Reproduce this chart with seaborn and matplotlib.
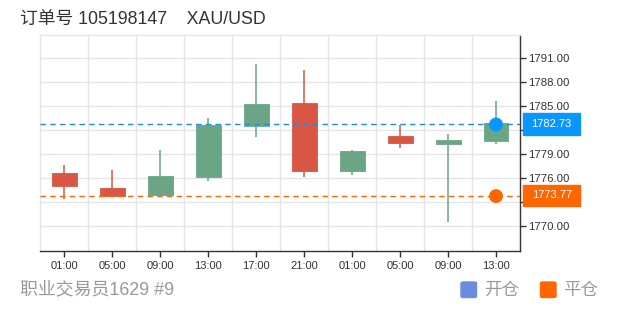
import matplotlib
matplotlib.use("Agg")
import matplotlib.pyplot as plt
import matplotlib.transforms as mtransforms
from matplotlib.patches import Rectangle, FancyBboxPatch
import numpy as np
import pandas as pd
import seaborn as sns

# ---- data ----
times = ["01:00", "05:00", "09:00", "13:00", "17:00", "21:00", "01:00", "05:00", "09:00", "13:00"]
opens = [1776.6, 1774.8, 1773.9, 1776.1, 1782.5, 1785.4, 1776.9, 1781.3, 1780.3, 1780.7]
closes = [1775.0, 1773.8, 1776.25, 1782.6, 1785.3, 1776.9, 1779.4, 1780.4, 1780.75, 1782.9]
highs = [1777.7, 1777.0, 1779.5, 1783.5, 1790.3, 1789.5, 1779.55, 1782.7, 1781.5, 1785.7]
lows = [1773.45, 1773.6, 1773.6, 1775.6, 1781.2, 1776.2, 1776.45, 1779.8, 1770.5, 1780.3]
open_price = 1782.73
close_price = 1773.77
trade_idx = 9
yticks = [1770, 1773, 1776, 1779, 1782, 1785, 1788, 1791]
title = "订单号 105198147    XAU/USD"
footer = "职业交易员1629 #9"
legend_labels = ["开仓", "平仓"]

RED = "#d95644"
GREEN = "#6aa685"
BLUE_LINE = "#1e8ce6"
BLUE = "#0a96ff"
ORANGE = "#ff6600"
LEG_BLUE = "#6a8be0"

sns.set_theme(style="white")
plt.rcParams["font.family"] = ["Liberation Sans", "Noto Sans CJK SC", "DejaVu Sans"]

W, H = 620, 310
fig = plt.figure(figsize=(W / 100, H / 100), dpi=100)
L, R, T, B = 40.3, 520.0, 35.3, 251.0
ax = fig.add_axes([L / W, (H - B) / H, (R - L) / W, (B - T) / H])

df = pd.DataFrame({"t": range(len(times)), "label": times, "open": opens, "close": closes,
                   "high": highs, "low": lows})
df["bull"] = df["close"] >= df["open"]
df["color"] = np.where(df["bull"], GREEN, RED)
df["bottom"] = df[["open", "close"]].min(axis=1)
df["height"] = (df["close"] - df["open"]).abs()

# grid
for v in yticks:
    ax.axhline(v, color="#e5e5e5", lw=1, zorder=0)
for i in range(len(times)):
    ax.axvline(i + 0.5, color="#e5e5e5", lw=1, zorder=0)

# wicks
ax.vlines(df["t"], df["low"], df["high"], colors=df["color"], lw=1.1, zorder=2)
# bodies
ax.bar(df["t"], df["height"], bottom=df["bottom"], width=0.52, color=df["color"],
       edgecolor=df["color"], linewidth=0.6, zorder=3)

# trade lines
ax.axhline(open_price, color=BLUE_LINE, lw=1, ls=(0, (4, 3)), zorder=4)
ax.axhline(close_price, color=ORANGE, lw=1, ls=(0, (4, 3)), zorder=4)

pts = pd.DataFrame({"x": [trade_idx, trade_idx], "y": [open_price, close_price],
                    "kind": ["open", "close"]})
sns.scatterplot(data=pts, x="x", y="y", hue="kind", palette={"open": BLUE, "close": ORANGE},
                s=100, edgecolor="none", legend=False, ax=ax, zorder=5)

ax.set_xlim(-0.5, len(times) - 0.5)
ax.set_ylim(1766.91, 1793.875)
ax.set_xlabel("")
ax.set_ylabel("")
ax.set_xticks(range(len(times)))
ax.set_xticklabels(times, fontsize=8, color="#333333")
ax.yaxis.tick_right()
ax.set_yticks(yticks)
ax.set_yticklabels(["" if v in (1773, 1782) else f"{v:.2f}" for v in yticks],
                   fontsize=8.2, color="#333333")
ax.tick_params(axis="both", length=4, width=1, color="#333333", direction="out")
ax.tick_params(axis="x", bottom=True, pad=3)
ax.tick_params(axis="y", right=True, left=False, pad=2)

for s in ["top", "left"]:
    ax.spines[s].set_color("#e5e5e5")
    ax.spines[s].set_linewidth(1)
for s in ["bottom", "right"]:
    ax.spines[s].set_color("#333333")
    ax.spines[s].set_linewidth(1)
ax.set_facecolor("white")

# price tags
trans = mtransforms.blended_transform_factory(ax.transAxes, ax.transData)
aw = R - L
for val, col in [(open_price, BLUE), (close_price, ORANGE)]:
    x0 = (523.3 - L) / aw
    wdt = 56.7 / aw
    hgt = 21.7 / 8.0
    ax.add_patch(Rectangle((x0, val - hgt / 2 + 0.08), wdt, hgt, transform=trans, color=col,
                           clip_on=False, zorder=6))
    ax.text(x0 + wdt / 2, val + 0.08, f"{val:.2f}", transform=trans, ha="center", va="center",
            color="white", fontsize=8, clip_on=False, zorder=7)

# title & footer
fig.text(20.5 / W, 1 - 19.5 / H, title, fontsize=12.8, color="#333333", ha="left", va="center",
         family=["Liberation Sans", "Noto Sans CJK SC"])
fig.text(20.5 / W, 1 - 289.5 / H, footer, fontsize=12.9, color="#999999", ha="left", va="center",
         family=["Liberation Sans", "Noto Sans CJK SC"])

# legend
for (x0, col, lab) in [(461.0, LEG_BLUE, legend_labels[0]), (540.5, ORANGE, legend_labels[1])]:
    fig.patches.append(FancyBboxPatch((x0 / W, 1 - 297.5 / H), 15.5 / W, 15.5 / H,
                                      boxstyle="round,pad=0,rounding_size=0.004",
                                      transform=fig.transFigure, color=col, figure=fig))
    fig.text((x0 + 23) / W, 1 - 289.5 / H, lab, fontsize=12.6, color="#999999", ha="left",
             va="center", family=["Noto Sans CJK SC", "DejaVu Sans"])

fig.savefig("out.png", dpi=100, facecolor="white")
